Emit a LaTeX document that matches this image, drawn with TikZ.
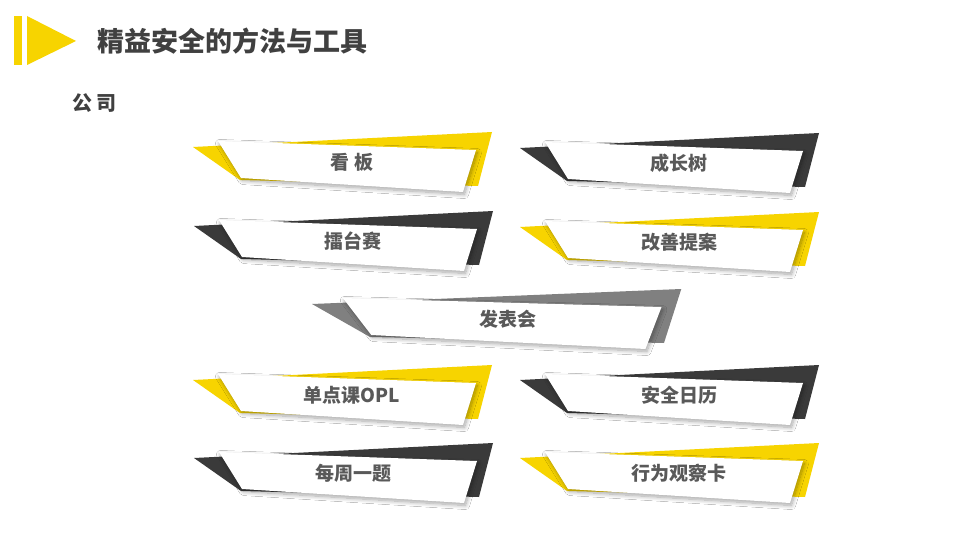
\documentclass[tikz,border=0pt]{standalone}
\usepackage{fontspec}
\setmainfont{Noto Sans CJK SC}
\usetikzlibrary{shadows.blur}
\definecolor{cyellow}{RGB}{247,212,0}
\definecolor{cdark}{RGB}{58,58,58}
\definecolor{cgray}{RGB}{128,128,128}
\definecolor{ctext}{RGB}{89,89,89}
\definecolor{ctitle}{RGB}{64,64,64}
\tikzset{
  backshape/.style={fill=#1, draw=none},
  cardface/.style={fill=white, draw=none, blur shadow={shadow xshift=1.5pt, shadow yshift=-2.5pt, shadow opacity=35, shadow blur radius=4pt, shadow blur steps=10}},
  cardtext/.style={text=ctext, font=\fontsize{19}{22}\selectfont\bfseries, inner sep=0pt},
}
% #1 x, #2 y (left tip), #3 colour, #4 xscale, #5 name, #6 text
\newcommand\tcard[6]{%
  \begin{scope}[shift={(#1,#2)}, xscale=#4]
    \fill[backshape=#3] (0,0) -- (299,-15) -- (285,39) -- (47,33) -- cycle;
    \path[cardface] (25,-6) -- (283,3) -- (270,45) -- (48,31) -- cycle;
  \end{scope}
  \node[cardtext] (#5) at ({#1+159*#4},{#2+15}) {#6};
}
\begin{document}
\begin{tikzpicture}[x=1pt,y=-1pt]
\useasboundingbox (0,0) rectangle (960,540);
\fill[white] (0,0) rectangle (960,540);
% header icon
\fill[cyellow] (14,16) rectangle (22,65);
\fill[cyellow] (27,16) -- (76,41) -- (27,65) -- cycle;
\node[anchor=west, inner sep=0pt, text=ctitle, font=\fontsize{27}{30}\selectfont\bfseries] (title) at (97,41) {精益安全的方法与工具};
\node[anchor=west, inner sep=0pt, text=ctitle, font=\fontsize{20}{22}\selectfont\bfseries] (company) at (72,103) {公 司};
% cards
\tcard{193}{147}{cyellow}{1}{c1}{看 板}
\tcard{520}{148}{cdark}{1}{c2}{成长树}
\tcard{194}{226}{cdark}{1}{c3}{擂台赛}
\tcard{520}{227}{cyellow}{1}{c4}{改善提案}
\tcard{312}{304}{cgray}{1.235}{c5}{发表会}
\tcard{193}{380}{cyellow}{1}{c6}{单点课OPL}
\tcard{520}{380}{cdark}{1}{c7}{安全日历}
\tcard{194}{458}{cdark}{1}{c8}{每周一题}
\tcard{520}{458}{cyellow}{1}{c9}{行为观察卡}
\end{tikzpicture}
\end{document}
